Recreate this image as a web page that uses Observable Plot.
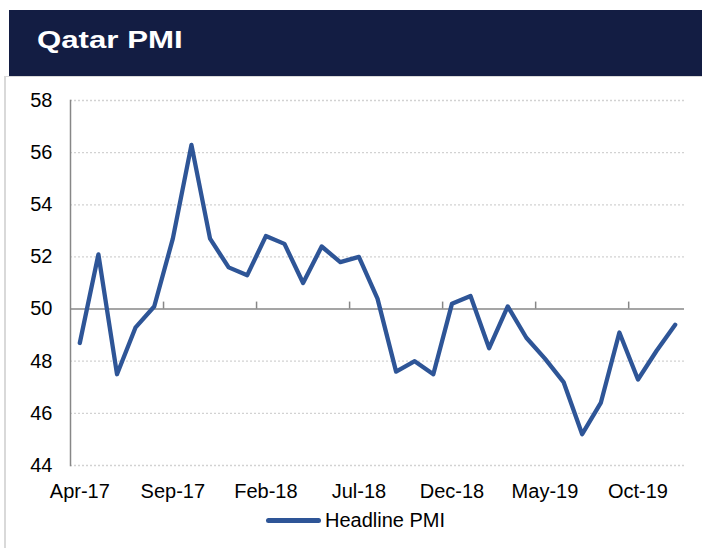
<!DOCTYPE html>
<html>
<head>
<meta charset="utf-8">
<script src="https://cdn.jsdelivr.net/npm/d3@7"></script>
<script src="https://cdn.jsdelivr.net/npm/@observablehq/plot@0.6"></script>
<style>
  html, body { margin: 0; padding: 0; background: #fff; }
  body { width: 702px; height: 548px; position: relative; overflow: hidden; font-family: "Liberation Sans", Arial, sans-serif; }
  #panel { position: absolute; left: 4px; top: 76px; width: 720px; height: 500px; border-left: 2px solid #d9d9d9; border-top: 1px solid #d9d9d9; box-sizing: border-box; }
  #titlebar { position: absolute; left: 9px; top: 10px; width: 693px; height: 66px; background: #131d43; }
  #titlebar span { position: absolute; left: 28px; top: 16px; color: #fff; font-weight: bold; font-size: 24px; line-height: 28px; transform: scaleX(1.3); transform-origin: left center; white-space: nowrap; }
  #chart { position: absolute; left: 0; top: 80px; }
  #legend { position: absolute; top: 508px; left: 266px; height: 24px; display: flex; align-items: center; }
  #legend .sw { width: 55px; height: 5px; border-radius: 3px; background: #2e5597; margin-right: 4px; }
  #legend .lb { font-size: 20px; color: #000; }
</style>
</head>
<body>
<div id="panel"></div>
<div id="titlebar"><span>Qatar PMI</span></div>
<div id="chart"></div>
<div id="legend"><div class="sw"></div><div class="lb">Headline PMI</div></div>
<script>
const months = ["Apr-17","May-17","Jun-17","Jul-17","Aug-17","Sep-17","Oct-17","Nov-17","Dec-17",
  "Jan-18","Feb-18","Mar-18","Apr-18","May-18","Jun-18","Jul-18","Aug-18","Sep-18","Oct-18","Nov-18","Dec-18",
  "Jan-19","Feb-19","Mar-19","Apr-19","May-19","Jun-19","Jul-19","Aug-19","Sep-19","Oct-19","Nov-19","Dec-19"];
const headlinePMI = [48.7, 52.1, 47.5, 49.3, 50.1, 52.7, 56.3, 52.7, 51.6,
  51.3, 52.8, 52.5, 51.0, 52.4, 51.8, 52.0, 50.4, 47.6, 48.0, 47.5, 50.2,
  50.5, 48.5, 50.1, 48.9, 48.1, 47.2, 45.2, 46.4, 49.1, 47.3, 48.4, 49.4];
const labelMonths = ["Apr-17","Sep-17","Feb-18","Jul-18","Dec-18","May-19","Oct-19"];
const yTicks = [44, 46, 48, 50, 52, 54, 56, 58];

const data = months.map((m, i) => ({i, month: m, value: headlinePMI[i]}));
const labelIdx = labelMonths.map(m => months.indexOf(m));
const boundaryIdx = labelIdx.slice(1).map(i => i - 0.5);
const axisGray = "#878787";

const chart = Plot.plot({
  width: 702,
  height: 430,
  marginLeft: 70,
  marginRight: 18,
  marginTop: 20,
  marginBottom: 45,
  style: {fontFamily: "'Liberation Sans', Arial, sans-serif", fontSize: "20px", color: "#000", background: "transparent"},
  x: {type: "linear", domain: [-0.5, months.length - 0.5]},
  y: {domain: [44, 58]},
  marks: [
    Plot.ruleY(yTicks.filter(v => v !== 50), {stroke: "#d2d2d2", strokeWidth: 1.3, strokeDasharray: "2,2"}),
    Plot.ruleY([50], {stroke: axisGray, strokeWidth: 1.5}),
    Plot.ruleX(boundaryIdx, {y1: 50, y2: 50, insetTop: -7, stroke: axisGray, strokeWidth: 1.5}),
    Plot.frame({anchor: "left", stroke: axisGray, strokeWidth: 1.5}),
    Plot.line(data, {x: "i", y: "value", stroke: "#2e5597", strokeWidth: 4.3, strokeLinejoin: "round", strokeLinecap: "round"}),
    Plot.axisY({ticks: yTicks, tickSize: 0, tickPadding: 18, label: null, fontSize: 20, fill: "#000"}),
    Plot.axisX({ticks: labelIdx, tickFormat: i => months[i], tickSize: 0, tickPadding: 18, label: null, fontSize: 20, fill: "#000"})
  ]
});
document.getElementById("chart").appendChild(chart);
</script>
</body>
</html>
